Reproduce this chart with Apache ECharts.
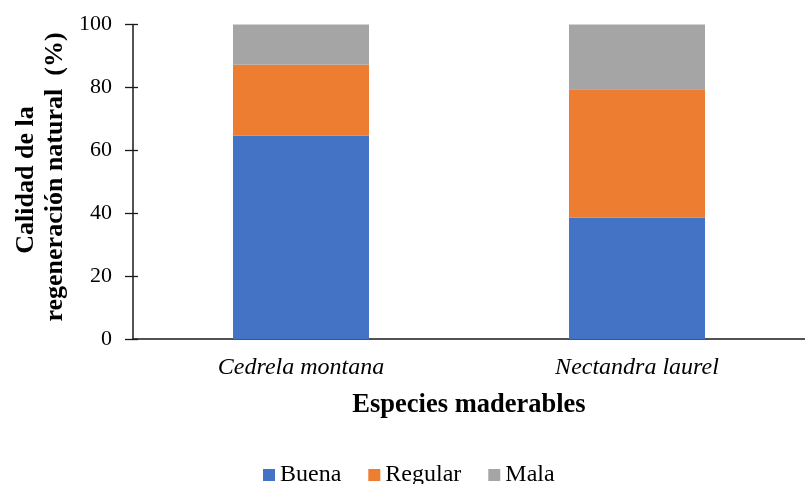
<!DOCTYPE html>
<html>
<head>
<meta charset="utf-8">
<script src="https://cdn.jsdelivr.net/npm/echarts@6/dist/echarts.min.js"></script>
<style>
  html, body { margin: 0; padding: 0; background: #fff; }
  #chart { width: 805px; height: 484px; }
</style>
</head>
<body>
<div id="chart"></div>
<script>
// Regeneration quality per timber species (%)
const species = ['Cedrela montana', 'Nectandra laurel'];
const buena = [64.6, 38.6];
const regular = [22.6, 40.8];
const mala = [12.8, 20.6];
const yTicks = [0, 20, 40, 60, 80, 100];

const FONT = '"Liberation Serif", "Times New Roman", serif';
const AXIS_COLOR = '#1a1a1a';

const chart = echarts.init(document.getElementById('chart'), null, { renderer: 'canvas' });

function stackSeries(name, data, color) {
  return {
    name: name,
    type: 'bar',
    stack: 'total',
    data: data,
    barWidth: 136,
    itemStyle: { color: color },
    emphasis: { disabled: true }
  };
}

chart.setOption({
  animation: false,
  backgroundColor: '#ffffff',
  textStyle: { fontFamily: FONT },
  grid: { left: 133, right: -6, top: 24.5, bottom: 145 },
  legend: {
    top: 458,
    left: 258,
    itemWidth: 12,
    itemHeight: 12,
    itemGap: 27,
    icon: 'rect',
    textStyle: { fontFamily: FONT, fontSize: 24, color: '#000' },
    data: ['Buena', 'Regular', 'Mala']
  },
  xAxis: [{
    type: 'category',
    data: species,
    boundaryGap: true,
    axisLine: { lineStyle: { color: AXIS_COLOR, width: 1.5 } },
    axisTick: { alignWithLabel: true, length: 6, lineStyle: { color: AXIS_COLOR, width: 1.3 } },
    axisLabel: { fontFamily: FONT, fontSize: 24, fontStyle: 'italic', color: '#000', margin: 17 },
    name: 'Especies maderables',
    nameLocation: 'middle',
    nameGap: 53,
    nameTextStyle: { fontFamily: FONT, fontSize: 26.5, fontWeight: 'bold', color: '#000' }
  }, {
    // inner half of the crossing tick marks
    type: 'category',
    data: species,
    position: 'bottom',
    boundaryGap: true,
    axisLine: { show: false },
    axisTick: { inside: true, alignWithLabel: true, length: 6, lineStyle: { color: AXIS_COLOR, width: 1.3 } },
    axisLabel: { show: false }
  }],
  yAxis: [{
    type: 'value',
    min: 0,
    max: 100,
    interval: 20,
    splitLine: { show: false },
    axisLine: { show: true, lineStyle: { color: AXIS_COLOR, width: 1.5 } },
    axisTick: { show: true, length: 8, lineStyle: { color: AXIS_COLOR, width: 1.3 } },
    axisLabel: {
      fontFamily: FONT, fontSize: 22, color: '#000', margin: 21,
      formatter: v => yTicks.includes(v) ? String(v) : ''
    }
  }, {
    // inner half of the crossing tick marks
    type: 'value',
    position: 'left',
    min: 0,
    max: 100,
    interval: 20,
    splitLine: { show: false },
    axisLine: { show: false },
    axisTick: { show: true, inside: true, length: 5, lineStyle: { color: AXIS_COLOR, width: 1.3 } },
    axisLabel: { show: false }
  }],
  // two-line vertical axis title, each line centred on the plot height
  graphic: [{
    type: 'text',
    x: 26, y: 180,
    rotation: Math.PI / 2,
    style: {
      text: 'Calidad de la',
      font: 'bold 26px ' + FONT,
      fill: '#000',
      textAlign: 'center',
      textVerticalAlign: 'middle'
    }
  }, {
    type: 'text',
    x: 55, y: 177,
    rotation: Math.PI / 2,
    style: {
      text: 'regeneración natural  (%)',
      font: 'bold 26px ' + FONT,
      fill: '#000',
      textAlign: 'center',
      textVerticalAlign: 'middle'
    }
  }],
  series: [
    stackSeries('Buena', buena, '#4472C4'),
    stackSeries('Regular', regular, '#ED7D31'),
    stackSeries('Mala', mala, '#A5A5A5')
  ]
});
</script>
</body>
</html>
